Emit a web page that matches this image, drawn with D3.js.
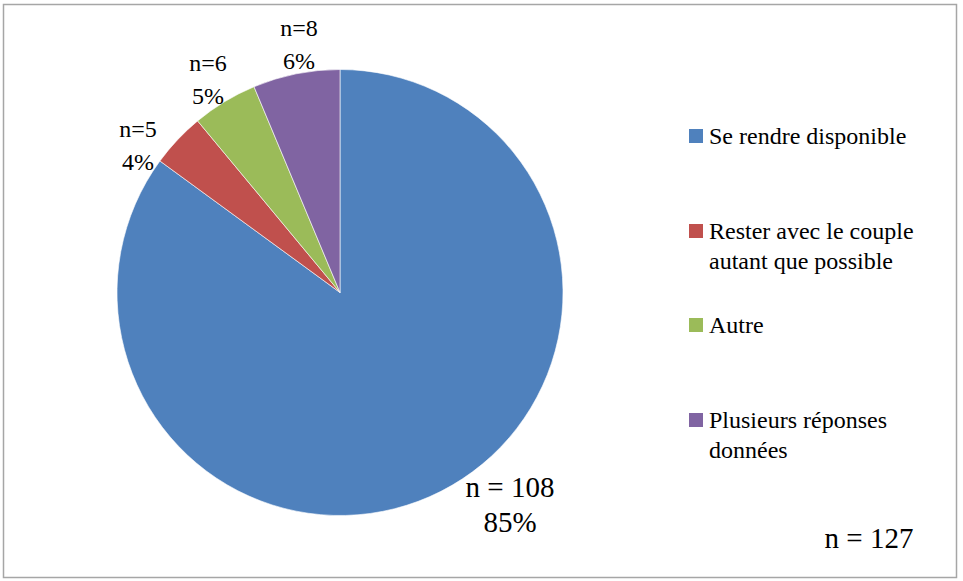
<!DOCTYPE html>
<html>
<head>
<meta charset="utf-8">
<script src="https://cdn.jsdelivr.net/npm/d3@7"></script>
</head>
<body style="margin:0">
<svg width="963" height="581"></svg>
<script>
// Chart data
var categories = ["Se rendre disponible", "Rester avec le couple autant que possible", "Autre", "Plusieurs réponses données"];
var counts = [108, 5, 6, 8];
var percents = ["85%", "4%", "5%", "6%"];
var colors = ["#4f81bd", "#c0504d", "#9bbb59", "#8064a2"];
var legendLines = [["Se rendre disponible"], ["Rester avec le couple", "autant que possible"], ["Autre"], ["Plusieurs réponses", "données"]];
var total = 127;

var svg = d3.select("svg");

// every label goes through here so the serif face is set on the element itself
function label(parent, x, y, size, str, anchor) {
  return parent.append("text")
      .attr("x", x).attr("y", y)
      .attr("font-family", "Liberation Serif")
      .style("font-family", "'Liberation Serif'")
      .attr("font-size", size)
      .attr("text-anchor", anchor || "start")
      .text(str);
}

// outer frame
svg.append("rect")
    .attr("x", 3.5).attr("y", 4.5)
    .attr("width", 953).attr("height", 573)
    .attr("fill", "none")
    .attr("stroke", "#a6a6a6")
    .attr("stroke-width", 1.5);

var cx = 340, cy = 292.5, radius = 223;

var pie = d3.pie().sort(null).value(function(d) { return d; });
var arc = d3.arc().innerRadius(0).outerRadius(radius);
var arcs = pie(counts);

var g = svg.append("g").attr("transform", "translate(" + cx + "," + cy + ")");

g.selectAll("path")
  .data(arcs)
  .enter().append("path")
    .attr("d", arc)
    .attr("fill", function(d, i) { return colors[i]; })
    .attr("stroke", "#fff")
    .attr("stroke-width", 0.6);

// data labels, placed just outside each slice
var labelPos = [
  {dx: 170, dy: 204, size: 29, sep: " = "},
  {dx: -202, dy: -156, size: 24, sep: "="},
  {dx: -132, dy: -222, size: 24, sep: "="},
  {dx: -41, dy: -257, size: 24, sep: "="}
];

arcs.forEach(function(d, i) {
  var p = labelPos[i];
  label(g, p.dx, p.dy, p.size, "n" + p.sep + counts[i], "middle");
  label(g, p.dx, p.dy + (i === 0 ? 35 : 33), p.size, percents[i], "middle");
});

// legend
var legendY = [144, 239, 333, 428];
var legend = svg.append("g");
legendLines.forEach(function(lines, i) {
  legend.append("rect")
      .attr("x", 689).attr("y", legendY[i] - 15)
      .attr("width", 14).attr("height", 14)
      .attr("fill", colors[i]);
  lines.forEach(function(line, j) {
    label(legend, 709, legendY[i] + j * 30, 24, line);
  });
});

label(svg, 869, 548, 29, "n = " + total, "middle");
</script>
</body>
</html>
